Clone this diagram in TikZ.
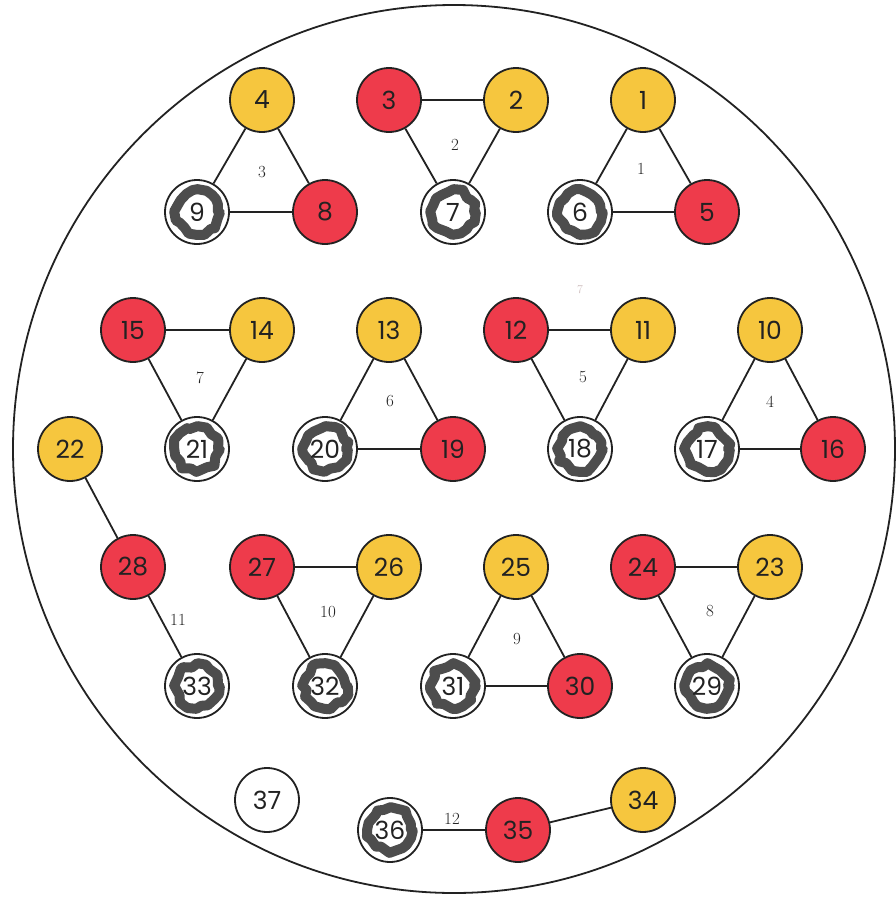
\documentclass[tikz,border=0pt]{standalone}
\usepackage{fontspec}
\newfontfamily\numfont{Poppins}
\usetikzlibrary{decorations.pathmorphing}
\definecolor{yel}{HTML}{F6C63E}
\definecolor{rd}{HTML}{EE3B4B}
\definecolor{scr}{HTML}{4D4D4D}
\definecolor{ink}{HTML}{222222}
\begin{document}
\begin{tikzpicture}[x=1pt,y=-1pt,
  ball/.style={circle, draw=ink, line width=1.8pt, minimum size=64pt, inner sep=0pt,
    font=\numfont\fontsize{25}{25}\selectfont, text=ink},
  Y/.style={ball, fill=yel},
  R/.style={ball, fill=rd},
  O/.style={ball, fill=white},
  S/.style={ball, fill=white, path picture={
     \draw[scr, line width=10pt, line join=round, line cap=round, decorate,
       decoration={random steps, segment length=6pt, amplitude=2.6pt}]
       (path picture bounding box.center) circle (21pt);}},
  edge/.style={line width=1.8pt, ink},
  lab/.style={font=\fontsize{17}{17}\selectfont, text=ink}]
\pgfmathsetseed{11}
\useasboundingbox (0,0) rectangle (896,898);
\draw[line width=1.8pt, ink] (454,449) ellipse [x radius=441, y radius=444];

% row 1
\node[Y] (n4) at (262,100) {4};
\node[R] (n3) at (389,100) {3};
\node[Y] (n2) at (516,100) {2};
\node[Y] (n1) at (643,100) {1};
\node[S] (n9) at (197,212) {9};
\node[R] (n8) at (325,212) {8};
\node[S] (n7) at (453,212) {7};
\node[S] (n6) at (580,212) {6};
\node[R] (n5) at (707,212) {5};
\draw[edge] (n4) -- (n9); \draw[edge] (n4) -- (n8); \draw[edge] (n9) -- (n8);
\draw[edge] (n3) -- (n2); \draw[edge] (n3) -- (n7); \draw[edge] (n2) -- (n7);
\draw[edge] (n1) -- (n6); \draw[edge] (n1) -- (n5); \draw[edge] (n6) -- (n5);
\node[lab] (l3) at (262,172) {3};
\node[lab] (l2) at (455,145) {2};
\node[lab] (l1) at (641,169) {1};

% row 2
\node[R] (n15) at (133,330) {15};
\node[Y] (n14) at (262,330) {14};
\node[Y] (n13) at (389,330) {13};
\node[R] (n12) at (516,330) {12};
\node[Y] (n11) at (643,330) {11};
\node[Y] (n10) at (770,330) {10};
\node[Y] (n22) at (70,449) {22};
\node[S] (n21) at (197,449) {21};
\node[S] (n20) at (325,449) {20};
\node[R] (n19) at (453,449) {19};
\node[S] (n18) at (580,449) {18};
\node[S] (n17) at (707,449) {17};
\node[R] (n16) at (833,449) {16};
\draw[edge] (n15) -- (n14); \draw[edge] (n15) -- (n21); \draw[edge] (n14) -- (n21);
\draw[edge] (n13) -- (n20); \draw[edge] (n13) -- (n19); \draw[edge] (n20) -- (n19);
\draw[edge] (n12) -- (n11); \draw[edge] (n12) -- (n18); \draw[edge] (n11) -- (n18);
\draw[edge] (n10) -- (n17); \draw[edge] (n10) -- (n16); \draw[edge] (n17) -- (n16);
\node[lab] (l7) at (200,378) {7};
\node[lab] (l6) at (390,401) {6};
\node[lab] (l5) at (583,377) {5};
\node[lab] (l4) at (770,402) {4};
\node[font=\fontsize{12}{12}\selectfont, text=red!25!black!25] (faint) at (580,290) {7};

% row 3
\node[R] (n28) at (133,567) {28};
\node[R] (n27) at (262,567) {27};
\node[Y] (n26) at (389,567) {26};
\node[Y] (n25) at (516,567) {25};
\node[R] (n24) at (643,567) {24};
\node[Y] (n23) at (770,567) {23};
\node[S] (n33) at (197,686) {33};
\node[S] (n32) at (325,686) {32};
\node[S] (n31) at (453,686) {31};
\node[R] (n30) at (580,686) {30};
\node[S] (n29) at (707,686) {29};
\draw[edge] (n22) -- (n28); \draw[edge] (n28) -- (n33);
\draw[edge] (n27) -- (n26); \draw[edge] (n27) -- (n32); \draw[edge] (n26) -- (n32);
\draw[edge] (n25) -- (n31); \draw[edge] (n25) -- (n30); \draw[edge] (n31) -- (n30);
\draw[edge] (n24) -- (n23); \draw[edge] (n24) -- (n29); \draw[edge] (n23) -- (n29);
\node[lab] (l11) at (178,620) {11};
\node[lab] (l10) at (328,612) {10};
\node[lab] (l9) at (517,639) {9};
\node[lab] (l8) at (710,611) {8};

% row 4
\node[O] (n37) at (267,800) {37};
\node[S] (n36) at (390,830) {36};
\node[R] (n35) at (518,830) {35};
\node[Y] (n34) at (643,800) {34};
\draw[edge] (n36) -- (n35); \draw[edge] (n35) -- (n34);
\node[lab] (l12) at (452,819) {12};
\end{tikzpicture}
\end{document}
